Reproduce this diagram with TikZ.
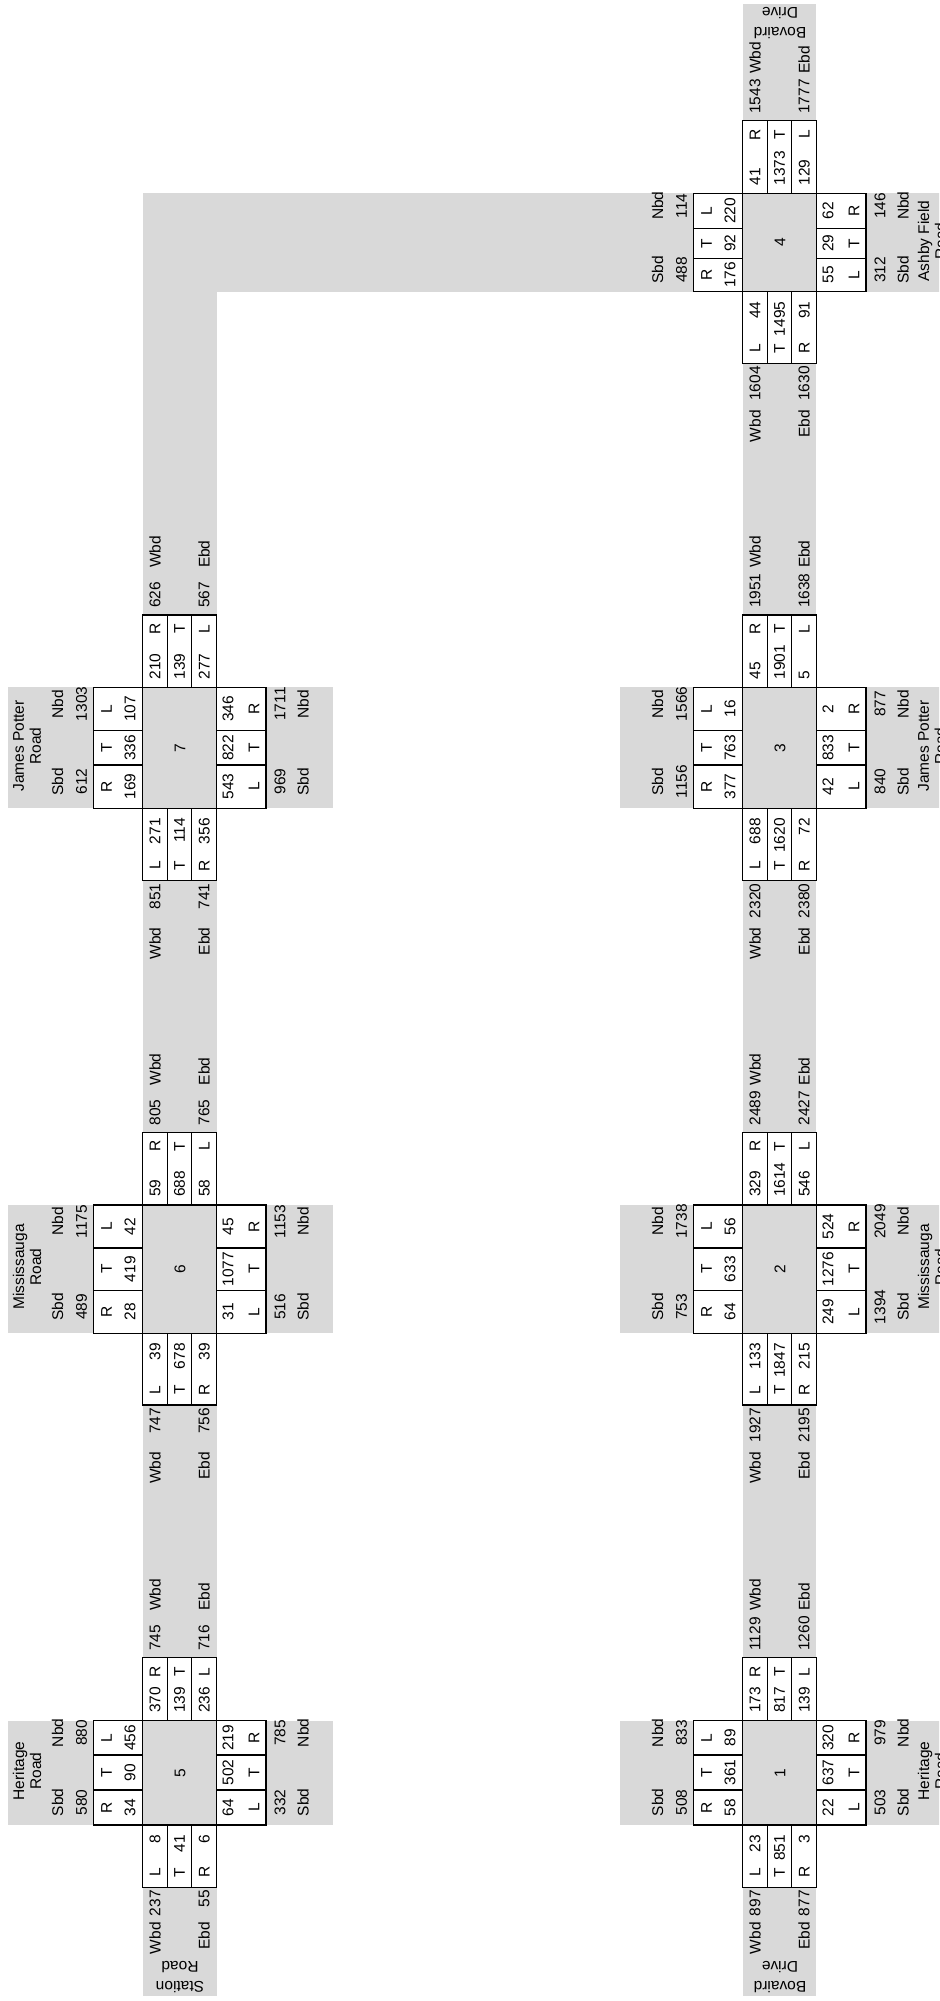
\documentclass[tikz,border=0pt]{standalone}
\usepackage{fontspec}
\setmainfont{Liberation Sans}
\definecolor{strassengrau}{RGB}{217,217,217}

\begin{document}
\begin{tikzpicture}[
    x=0.5pt, y=-0.5pt, rotate=90, transform shape,
    font=\fontsize{7.75}{8.5}\selectfont,
    strasse/.style={fill=strassengrau},
    zelle/.style={draw, fill=white, line width=0.6pt},
    wert/.style={inner sep=0pt, outer sep=0pt},
    strname/.style={wert, align=center}
  ]
  \useasboundingbox (0,0) rectangle (2001,939);
  \clip (0,0) rectangle (2001,939);
  \fill[strasse] (5.3,142.7) rectangle (1807.7,216.7);
  \fill[strasse] (5.3,742.7) rectangle (1997,815.7);
  \fill[strasse] (1709.3,142.7) rectangle (1807.7,945);
  \foreach \xa/\xd in {176/280.3, 667.7/796, 1192.7/1313.7}{
    \fill[strasse] (\xa,8) rectangle (\xd,333);
    \fill[strasse] (\xa,620) rectangle (\xd,945);
  }
  \foreach \nr/\xa/\xb/\xc/\xd/\xw/\xe/\dy/\wo/\nR/\nT/\nL/\sL/\sT/\sR/\wL/\wT/\wR/\eR/\eT/\eL/\nS/\nN/\sS/\sN/\wW/\wE/\eW/\eE in {
      5/176/211/246/280.3/113.7/343.3/0/35/34/90/456/64/502/219/8/41/6/370/139/236/580/880/332/785/237/55/745/716,
      6/667.7/710.5/753/796/596/868.7/0/47/28/419/42/31/1077/45/39/678/39/59/688/58/489/1175/516/1153/747/756/805/765,
      7/1192.7/1236/1270.3/1313.7/1120.3/1386/0/47/169/336/107/543/822/346/271/114/356/210/139/277/612/1303/969/1711/851/741/626/567,
      1/176/211/246/280.3/113.7/343.3/600/35/58/361/89/22/637/320/23/851/3/173/817/139/508/833/503/979/897/877/1129/1260,
      2/667.7/710.5/753/796/596/868.7/600/47/64/633/56/249/1276/524/133/1847/215/329/1614/546/753/1738/1394/2049/1927/2195/2489/2427,
      3/1192.7/1236/1270.3/1313.7/1120.3/1386/600/47/377/763/16/42/833/2/688/1620/72/45/1901/5/1156/1566/840/877/2320/2380/1951/1638,
      4/1709.3/1742.7/1772.7/1807.7/1637.7/1880.3/600/47/176/92/220/55/29/62/44/1495/91/41/1373/129/488/114/312/146/1604/1630/1543/1777}{
    \node[wert] (k\nr) at ({(\xa+\xd)/2},\dy+180) {\nr};
    \foreach \bu/\wt/\pa/\pb in {R/\nR/\xa/\xb, T/\nT/\xb/\xc, L/\nL/\xc/\xd}{
      \draw[zelle] (\pa,\dy+93.3) rectangle (\pb,\dy+142.7);
      \node[wert] (n\bu\nr) at ({(\pa+\pb)/2},\dy+106.5) {\bu};
      \node[wert] (nv\bu\nr) at ({(\pa+\pb)/2},\dy+130) {\wt};
    }
    \foreach \bu/\wt/\pa/\pb in {L/\sL/\xa/\xb, T/\sT/\xb/\xc, R/\sR/\xc/\xd}{
      \draw[zelle] (\pa,\dy+216.7) rectangle (\pb,\dy+266);
      \node[wert] (sv\bu\nr) at ({(\pa+\pb)/2},\dy+228) {\wt};
      \node[wert] (s\bu\nr) at ({(\pa+\pb)/2},\dy+254) {\bu};
    }
    \foreach \bu/\wt/\pa/\pb in {L/\wL/142.7/167.3, T/\wT/167.3/191.7, R/\wR/191.7/216.7}{
      \draw[zelle] (\xw,\dy+\pa) rectangle (\xa,\dy+\pb);
      \node[wert] (w\bu\nr) at (\xw+15,{\dy+(\pa+\pb)/2}) {\bu};
      \node[wert, anchor=east] (wv\bu\nr) at (\xa-10,{\dy+(\pa+\pb)/2}) {\wt};
    }
    \foreach \bu/\wt/\pa/\pb in {R/\eR/142.7/167.3, T/\eT/167.3/191.7, L/\eL/191.7/216.7}{
      \draw[zelle] (\xd,\dy+\pa) rectangle (\xe,\dy+\pb);
      \node[wert, anchor=west] (ev\bu\nr) at (\xd+8,{\dy+(\pa+\pb)/2}) {\wt};
      \node[wert] (e\bu\nr) at (\xe-14,{\dy+(\pa+\pb)/2}) {\bu};
    }
    \node[wert] (ns\nr) at ({(\xa+\xb)/2+5},\dy+57.5) {Sbd};
    \node[wert] (nsv\nr) at ({(\xa+\xb)/2+5},\dy+81.5) {\nS};
    \node[wert] (nn\nr) at ({(\xc+\xd)/2+5},\dy+57.5) {Nbd};
    \node[wert] (nnv\nr) at ({(\xc+\xd)/2+5},\dy+81.5) {\nN};
    \node[wert] (ssv\nr) at ({(\xa+\xb)/2+5},\dy+280) {\sS};
    \node[wert] (ss\nr) at ({(\xa+\xb)/2+5},\dy+303) {Sbd};
    \node[wert] (snv\nr) at ({(\xc+\xd)/2+5},\dy+280) {\sN};
    \node[wert] (sn\nr) at ({(\xc+\xd)/2+5},\dy+303) {Nbd};
    \node[wert, anchor=east] (wwv\nr) at (\xw-3,\dy+155) {\wW};
    \node[wert, anchor=east] (ww\nr) at (\xw-\wo,\dy+155) {Wbd};
    \node[wert, anchor=east] (wev\nr) at (\xw-3,\dy+204) {\wE};
    \node[wert, anchor=east] (we\nr) at (\xw-\wo,\dy+204) {Ebd};
    \node[wert, anchor=west] (ewv\nr) at (\xe+7,\dy+155) {\eW};
    \node[wert, anchor=west] (ew\nr) at (\xe+47,\dy+155) {Wbd};
    \node[wert, anchor=west] (eev\nr) at (\xe+7,\dy+204) {\eE};
    \node[wert, anchor=west] (ee\nr) at (\xe+47,\dy+204) {Ebd};
  }
  \node[strname] (heritageN) at (230,27) {Heritage\\Road};
  \node[strname] (mississaugaN) at (734,27) {Mississauga\\Road};
  \node[strname] (potterN) at (1255,27) {James Potter\\Road};
  \node[strname] (heritageS) at (230,932) {Heritage\\Road};
  \node[strname] (mississaugaS) at (734,932) {Mississauga\\Road};
  \node[strname] (potterS) at (1255,932) {James Potter\\Road};
  \node[strname] (ashbyS) at (1760,932) {Ashby Field\\Road};
  \node[strname, rotate=90] (station) at (24,180) {Station\\[1.5pt]Road};
  \node[strname, rotate=90] (bovairdW) at (24,780) {Bovaird\\[1.5pt]Drive};
  \node[strname, rotate=90] (bovairdO) at (1978,780) {Bovaird\\[1.5pt]Drive};
\end{tikzpicture}
\end{document}
